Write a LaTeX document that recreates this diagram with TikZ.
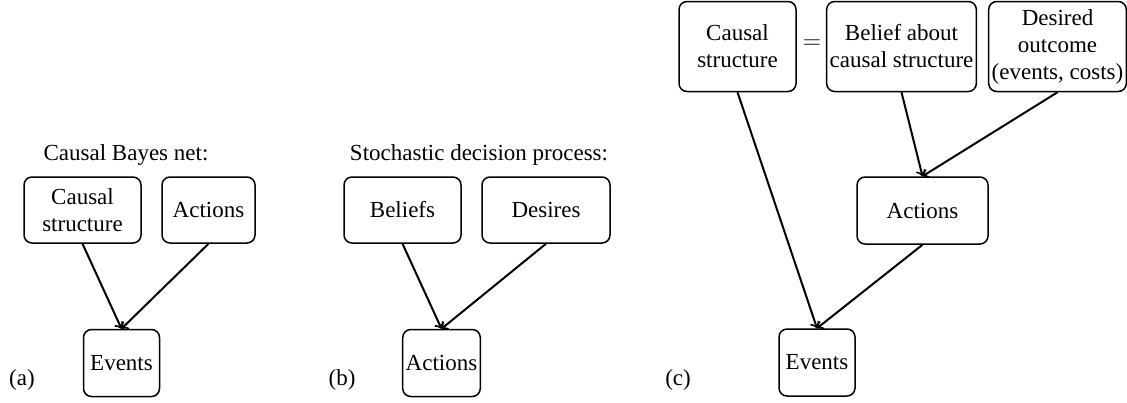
\documentclass[tikz,border=0pt]{standalone}
\usepackage{fontspec}
\setmainfont{Liberation Serif}
\begin{document}
\fontsize{11.5}{13.5}\selectfont
\begin{tikzpicture}[x=0.5pt, y=-0.5pt, >=to,
		box/.style={draw, rounded corners=4pt, line width=0.75pt, align=center, minimum height=33pt, inner sep=1.5pt},
		edge/.style={->, line width=1pt}]
		\useasboundingbox (0,0) rectangle (1127,402);
		
		% (a) Causal Bayes net
		\node (titleA) at (126,155) {Causal Bayes net:};
		\node[box, minimum width=58.5pt] (causalA) at (82.5,210) {Causal\\structure};
		\node[box, minimum width=46.5pt] (actionsA) at (208.5,210) {Actions};
		\node[box, minimum width=38pt, minimum height=33.5pt] (eventsA) at (121.5,363) {Events};
		\node (labelA) at (22,380) {(a)};
		\draw[edge] (causalA.south) -- (eventsA.north);
		\draw[edge] (actionsA.south) -- (eventsA.north);
		
		% (b) Stochastic decision process
		\node (titleB) at (479,155) {Stochastic decision process:};
		\node[box, minimum width=58.5pt] (beliefsB) at (402.5,210) {Beliefs};
		\node[box, minimum width=64pt] (desiresB) at (546,210) {Desires};
		\node[box, minimum width=38.5pt, minimum height=33.5pt] (actionsB) at (441.5,363) {Actions};
		\node (labelB) at (342,380) {(b)};
		\draw[edge] (beliefsB.south) -- (actionsB.north);
		\draw[edge] (desiresB.south) -- (actionsB.north);
		
		% (c)
		\node[box, minimum width=58.5pt, minimum height=45pt] (causalC) at (737.5,46.5) {Causal\\structure};
		\node (eqC) at (812,44) {$=$};
		\node[box, minimum width=74.5pt, minimum height=45pt] (beliefC) at (901.5,46.5) {Belief about\\causal structure};
		\node[box, minimum width=68.5pt, minimum height=45pt] (desiredC) at (1057.5,46.5) {Desired\\outcome\\(events, costs)};
		\node[box, minimum width=65.5pt, minimum height=33.5pt] (actionsC) at (922.5,210.5) {Actions};
		\node[box, minimum width=38pt, minimum height=33.5pt] (eventsC) at (817,362.5) {Events};
		\node (labelC) at (678,380) {(c)};
		\draw[edge] (causalC.south) -- (eventsC.north);
		\draw[edge] (beliefC.south) -- (actionsC.north);
		\draw[edge] (desiredC.south) -- (actionsC.north);
		\draw[edge] (actionsC.south) -- (eventsC.north);
	\end{tikzpicture}
\end{document}
